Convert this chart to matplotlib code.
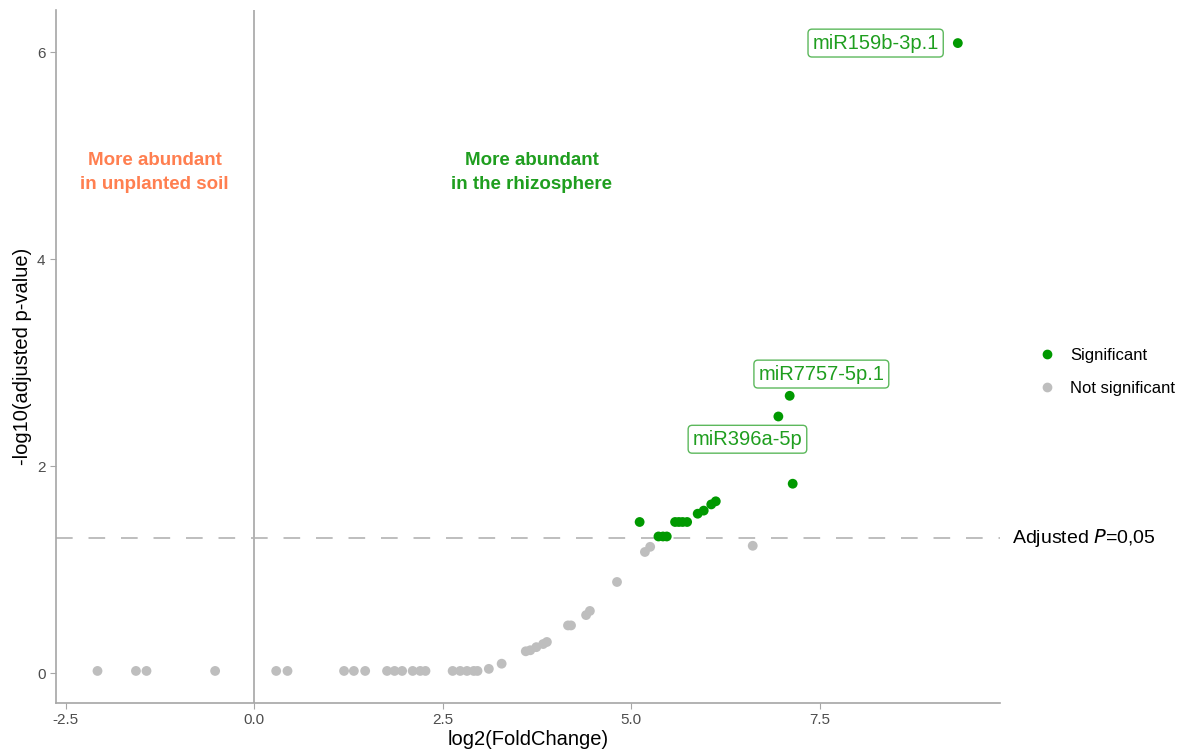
import matplotlib.pyplot as plt
from matplotlib.lines import Line2D

plt.rcParams['font.family'] = ['Liberation Sans', 'DejaVu Sans']

# not significant (grey)
ns_fc = [-2.08, -1.57, -1.43, -0.52, 0.29, 0.44, 1.19, 1.32, 1.47, 1.76, 1.86, 1.96,
         2.10, 2.20, 2.27, 2.63, 2.73, 2.82, 2.91, 2.96, 3.11, 3.28,
         3.60, 3.66, 3.74, 3.83, 3.88, 4.16, 4.20, 4.40, 4.45, 4.81,
         5.18, 5.25, 6.61]
ns_p = [0.02, 0.02, 0.02, 0.02, 0.02, 0.02, 0.02, 0.02, 0.02, 0.02, 0.02, 0.02,
        0.02, 0.02, 0.02, 0.02, 0.02, 0.02, 0.02, 0.02, 0.04, 0.09,
        0.21, 0.22, 0.25, 0.28, 0.30, 0.46, 0.46, 0.56, 0.60, 0.88,
        1.17, 1.22, 1.23]

# significant (green)
sig_fc = [5.11, 5.36, 5.42, 5.47, 5.58, 5.63, 5.68, 5.74, 5.88, 5.96, 6.06, 6.12,
          7.14, 6.95, 7.10, 9.33]
sig_p = [1.46, 1.32, 1.32, 1.32, 1.46, 1.46, 1.46, 1.46, 1.54, 1.57, 1.63, 1.66,
         1.83, 2.48, 2.68, 6.09]

labels = ['miR159b-3p.1', 'miR7757-5p.1', 'miR396a-5p']
label_x = [8.24, 7.52, 6.54]
label_y = [6.09, 2.89, 2.26]

green = '#009900'
grey = '#bebebe'

fig = plt.figure(figsize=(11.87, 7.56), dpi=100)
ax = fig.add_axes([0.0472, 0.0701, 0.7953, 0.9167])

ax.axvline(0, color='#a6a6a6', lw=1.2, zorder=1)
ax.axhline(1.301, color='#b3b3b3', lw=1.2, ls=(0, (10, 9.5)), zorder=1)

ax.scatter(ns_fc, ns_p, s=50, color=grey, edgecolors='none', zorder=2)
ax.scatter(sig_fc, sig_p, s=50, color=green, edgecolors='none', zorder=3)

for lab, x, y in zip(labels, label_x, label_y):
    ax.text(x, y, lab, ha='center', va='center', fontsize=14.5, color='#1f9e1f',
            bbox=dict(boxstyle='round,pad=0.22,rounding_size=0.2', fc='white',
                      ec='#5cb85c', lw=1.0), zorder=4)

ax.text(-1.32, 4.84, 'More abundant\nin unplanted soil', ha='center', va='center',
        fontsize=13.5, fontweight='bold', color='#ff7f50', linespacing=1.5)
ax.text(3.68, 4.84, 'More abundant\nin the rhizosphere', ha='center', va='center',
        fontsize=13.5, fontweight='bold', color='#1f9e1f', linespacing=1.5)

ax.text(1.013, 1.301, 'Adjusted $\\it{P}$=0,05', transform=ax.get_yaxis_transform(),
        ha='left', va='center', fontsize=14, color='black')

ax.set_xlim(-2.63, 9.89)
ax.set_ylim(-0.29, 6.41)
ax.set_xticks([-2.5, 0.0, 2.5, 5.0, 7.5])
ax.set_xticklabels(['-2.5', '0.0', '2.5', '5.0', '7.5'])
ax.set_yticks([0, 2, 4, 6])
ax.set_xlabel('log2(FoldChange)', fontsize=14.5, labelpad=2)
ax.set_ylabel('-log10(adjusted p-value)', fontsize=14.5)

for side in ['top', 'right']:
    ax.spines[side].set_visible(False)
for side in ['left', 'bottom']:
    ax.spines[side].set_color('#a6a6a6')
    ax.spines[side].set_linewidth(1.2)
ax.tick_params(colors='#a6a6a6', labelcolor='#4d4d4d', labelsize=11, length=4)

handles = [Line2D([], [], marker='o', ls='none', color=green, markersize=6),
           Line2D([], [], marker='o', ls='none', color=grey, markersize=6)]
fig.legend(handles, ['Significant', 'Not significant'], loc='center left',
           bbox_to_anchor=(0.862, 0.508), frameon=False, fontsize=12,
           handletextpad=0.9, labelspacing=1.1, handlelength=1.0)

fig.savefig('out.png', dpi=100)
